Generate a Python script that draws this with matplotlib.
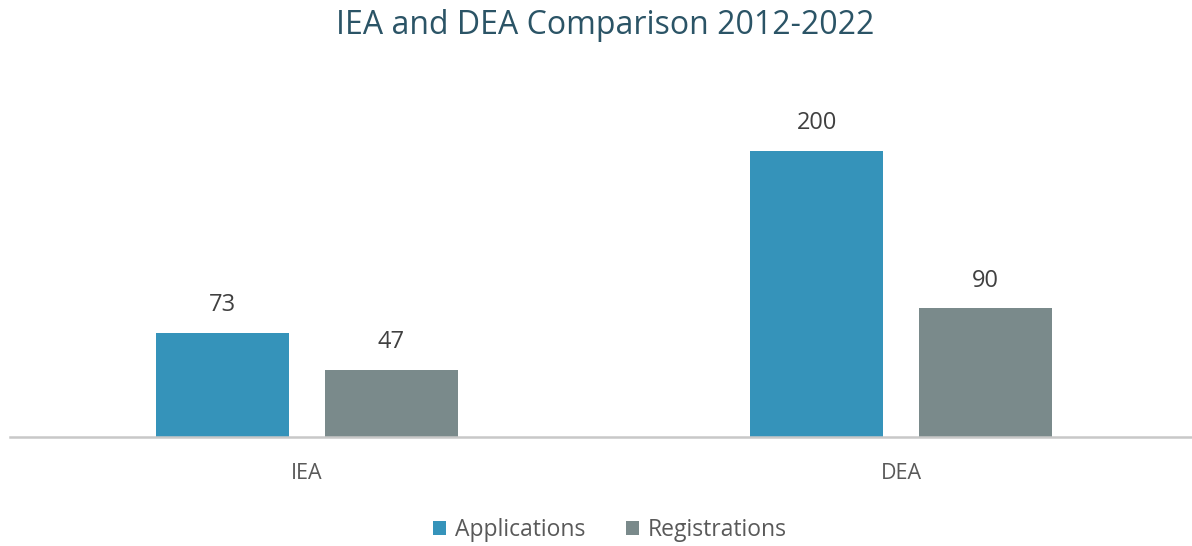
import numpy as np
import matplotlib.pyplot as plt

# datos del grafico
categorias = ["IEA", "DEA"]
series = ["Applications", "Registrations"]
applications = [73, 200]
registrations = [47, 90]

colores = ["#3593BA", "#7A8A8B"]

plt.rcParams['font.family'] = ['Open Sans', 'DejaVu Sans']

W, H = 1192, 546
fig = plt.figure(figsize=(W / 100, H / 100), dpi=100)
ax = fig.add_axes([10 / W, (H - 437) / H, (W - 10) / W, (437 - 80) / H])

x = np.arange(len(categorias))
ancho = 0.224
desp = 0.142

b1 = ax.bar(x - desp, applications, ancho, color=colores[0], label=series[0])
b2 = ax.bar(x + desp, registrations, ancho, color=colores[1], label=series[1])

for barras in (b1, b2):
    ax.bar_label(barras, padding=11.5, fontsize=17, color="#404040")

ax.set_xlim(-297 / 594, (W - 307) / 594)
ax.set_ylim(0, 250)
ax.set_xticks(x)
ax.set_xticklabels(categorias, fontsize=15.5, color="#595959")
ax.tick_params(axis="x", length=0, pad=19)
ax.set_yticks([])

for lado in ["top", "right", "left"]:
    ax.spines[lado].set_visible(False)
ax.spines["bottom"].set_color("#C8C8C8")
ax.spines["bottom"].set_linewidth(1.8)

fig.text(0.508, 1 - 26 / H, "IEA and DEA Comparison 2012-2022", ha="center", va="center",
         fontsize=23, color="#2B5466")

fig.legend(loc="center", bbox_to_anchor=(610 / W, 1 - 530 / H), ncol=2, frameon=False,
           fontsize=16.5, handlelength=0.55, handleheight=0.55, handletextpad=0.4,
           columnspacing=1.8, labelcolor="#595959")

fig.savefig("out.png", dpi=100)
